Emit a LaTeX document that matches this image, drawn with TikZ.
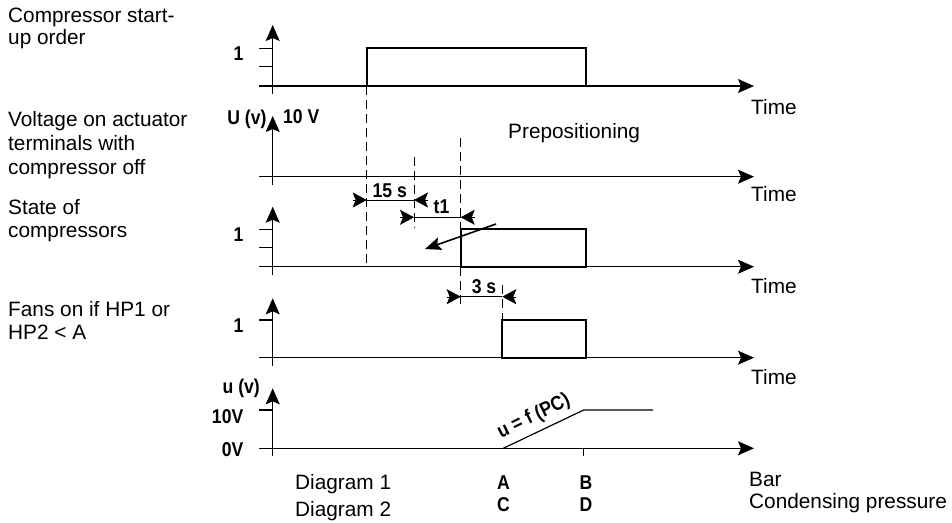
\documentclass[tikz,border=0pt]{standalone}
\usepackage{fontspec}
\setmainfont{Liberation Sans}
\newfontfamily\lblfamily[FakeStretch=0.88]{Liberation Sans}
\usetikzlibrary{arrows.meta,calc}
\begin{document}
\begin{tikzpicture}[x=1pt,y=-1pt,
  txt/.style={font=\fontsize{20.8}{24}\selectfont, inner sep=0, anchor=base west},
  lbl/.style={font=\lblfamily\fontsize{20}{24}\selectfont\bfseries, inner sep=0},
  axisline/.style={line width=1.2pt, -{Stealth[length=16pt,width=14pt,inset=3pt]}},
  tickline/.style={line width=1.1pt},
  boxline/.style={line width=1.8pt},
  dashline/.style={line width=1pt, dash pattern=on 9pt off 5pt},
  dimline/.style={line width=1pt},
  dimtip/.style={-{Stealth[length=14pt,width=15pt,inset=3pt]}},
]
\useasboundingbox (0,0) rectangle (952,522);

% ---------- left labels ----------
\node[txt] (c1a) at (8,22.5) {Compressor start-};
\node[txt] (c1b) at (8,44.5) {up order};
\node[txt] (c2a) at (8,126.5) {Voltage on actuator};
\node[txt] (c2b) at (8,150) {terminals with};
\node[txt] (c2c) at (8,174) {compressor off};
\node[txt] (c3a) at (8,214) {State of};
\node[txt] (c3b) at (8,237) {compressors};
\node[txt] (c4a) at (8,316.5) {Fans on if HP1 or};
\node[txt] (c4b) at (8,339.5) {HP2 < A};

% ---------- axis 1 ----------
\coordinate (a1b) at (272.7,94);
\coordinate (a1t) at (272.7,25);
\coordinate (a1l) at (259.3,86);
\coordinate (a1r) at (754,86);
\draw[axisline] (a1b) -- (a1t);
\draw[axisline] (a1l) -- (a1r);
\draw[tickline] (259.3,48.3) -- (272.7,48.3);
\draw[tickline] (259.3,66.7) -- (272.7,66.7);
\node[lbl, anchor=base east] (one1) at (243.5,60.5) {1};
\draw[boxline] (366.7,48.3) rectangle (585.7,86);
\node[txt] (time1) at (751,114) {Time};

% ---------- axis 2 ----------
\coordinate (a2b) at (272.7,184.5);
\coordinate (a2t) at (272.7,116);
\coordinate (a2l) at (259.3,176.7);
\coordinate (a2r) at (754,176.7);
\draw[axisline] (a2b) -- (a2t);
\draw[axisline] (a2l) -- (a2r);
\node[lbl, anchor=base east] (uv) at (266.7,124) {U (v)};
\node[lbl, anchor=base west] (tenv) at (283,123.5) {10 V};
\node[txt] (prep) at (508,138.3) {Prepositioning};
\node[txt] (time2) at (751,201.5) {Time};

% ---------- axis 3 ----------
\coordinate (a3b) at (272.7,274.5);
\coordinate (a3t) at (272.7,206.7);
\coordinate (a3l) at (259.3,266.7);
\coordinate (a3r) at (754,266.7);
\draw[axisline] (a3b) -- (a3t);
\draw[axisline] (a3l) -- (a3r);
\draw[tickline] (259.3,229.3) -- (272.7,229.3);
\draw[tickline] (259.3,247.7) -- (272.7,247.7);
\node[lbl, anchor=base east] (one3) at (243.5,241.7) {1};
\draw[boxline] (460.7,229.3) rectangle (585.7,266.7);
\node[txt] (time3) at (751,293) {Time};

% ---------- axis 4 ----------
\coordinate (a4b) at (272.7,365.5);
\coordinate (a4t) at (272.7,298.3);
\coordinate (a4l) at (259.3,357.7);
\coordinate (a4r) at (754,357.7);
\draw[axisline] (a4b) -- (a4t);
\draw[axisline] (a4l) -- (a4r);
\draw[tickline] (259.3,320) -- (272.7,320);
\node[lbl, anchor=base east] (one4) at (243.5,332) {1};
\draw[boxline] (502.3,320) rectangle (585.7,357.7);
\node[txt] (time4) at (751,384) {Time};

% ---------- axis 5 ----------
\coordinate (a5b) at (272.7,456.3);
\coordinate (a5t) at (272.7,388.3);
\coordinate (a5l) at (259.3,448.3);
\coordinate (a5r) at (754,448.3);
\draw[axisline] (a5b) -- (a5t);
\draw[axisline] (a5l) -- (a5r);
\draw[tickline] (259.3,410) -- (272.7,410);
\node[lbl, anchor=base east] (uv5) at (260,393.3) {u (v)};
\node[lbl, anchor=base east] (ten5) at (243.5,423.3) {10V};
\node[lbl, anchor=base east] (zero5) at (243.5,456.7) {0V};
\coordinate (rA) at (503.3,448.3);
\coordinate (rB) at (583.7,410);
\coordinate (rE) at (653,410);
\coordinate (tB) at (583.7,456.3);
\coordinate (tB0) at (583.7,448.3);
\draw[line width=1.2pt] (rA) -- (rB) -- (rE);
\draw[tickline] (tB0) -- (tB);
\node[lbl, rotate=26, anchor=base west] (ufpc) at (501,438.5) {u = f (PC)};
\node[lbl, anchor=base] (lA) at (503.5,489) {A};
\node[lbl, anchor=base] (lB) at (586,489) {B};
\node[lbl, anchor=base] (lC) at (503.5,511) {C};
\node[lbl, anchor=base] (lD) at (586,511) {D};
\node[txt] (dg1) at (295,489) {Diagram 1};
\node[txt] (dg2) at (295,516) {Diagram 2};
\node[txt] (bar) at (749,486) {Bar};
\node[txt] (cond) at (749,508) {Condensing pressure};

% ---------- dashed guides ----------
\draw[dashline] (366.7,86) -- (366.7,266.7);
\draw[dashline] (414,156.7) -- (414,228);
\draw[dashline] (460.7,138.3) -- (460.7,229.3);
\draw[dashline] (460.7,266.7) -- (460.7,306.7);
\draw[dashline] (502.3,285) -- (502.3,320);

% ---------- dimensions ----------
\coordinate (d15l) at (366.7,200);
\coordinate (d15r) at (414,200);
\draw[dimline] (d15l) -- (d15r);
\draw[dimtip] ($(d15l)+(-14,0)$) -- (d15l);
\draw[dimtip] ($(d15r)+(14,0)$) -- (d15r);
\node[lbl, anchor=base] (l15) at (389.7,197) {15 s};

\coordinate (dtl) at (414,217.3);
\coordinate (dtr) at (460.7,217.3);
\draw[dimline] (dtl) -- (dtr);
\draw[dimtip] ($(dtl)+(-14,0)$) -- (dtl);
\draw[dimtip] ($(dtr)+(14,0)$) -- (dtr);
\node[lbl, anchor=base] (lt1) at (441.5,213) {t1};

\coordinate (d3l) at (460.7,296.7);
\coordinate (d3r) at (502.3,296.7);
\draw[dimline] (d3l) -- (d3r);
\draw[dimtip] ($(d3l)+(-14,0)$) -- (d3l);
\draw[dimtip] ($(d3r)+(14,0)$) -- (d3r);
\node[lbl, anchor=base] (l3s) at (484,293) {3 s};

% ---------- diagonal arrow ----------
\coordinate (dgs) at (496,224);
\coordinate (dge) at (425,249);
\draw[line width=1.6pt, -{Stealth[length=16pt,width=13pt,inset=3pt]}] (dgs) -- (dge);
\end{tikzpicture}
\end{document}
